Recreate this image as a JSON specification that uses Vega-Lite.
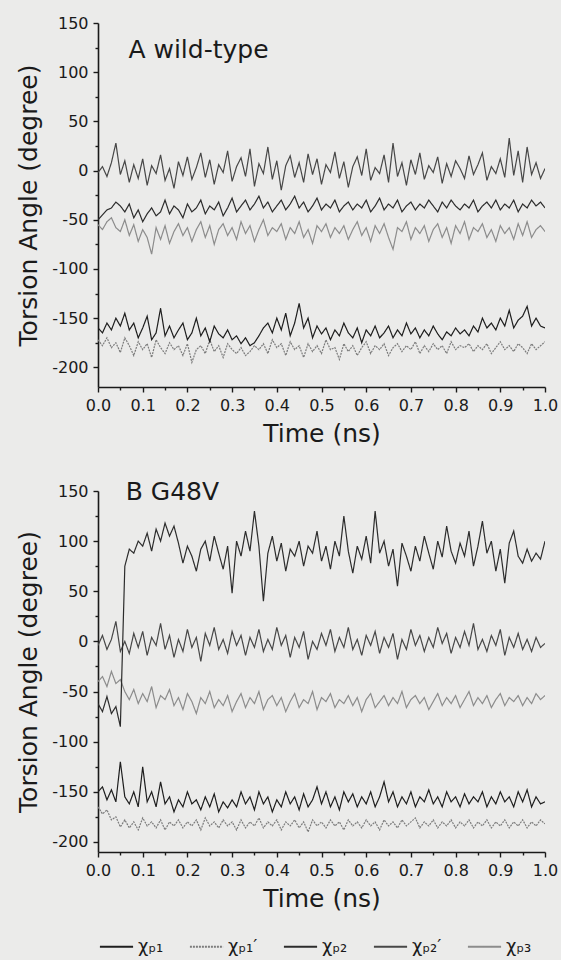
{
  "$schema": "https://vega.github.io/schema/vega-lite/v6.json",
  "background": "#ebebea",
  "padding": {"left": 16, "top": 15, "right": 4, "bottom": 4},
  "spacing": 34,
  "config": {
    "view": {"stroke": null},
    "font": "DejaVu Sans",
    "axis": {
      "grid": false,
      "labelFlush": false,
      "labelOverlap": false,
      "domainColor": "#1a1a1a",
      "domainWidth": 1.6,
      "tickColor": "#1a1a1a",
      "tickWidth": 1.4,
      "tickSize": 5,
      "labelFont": "DejaVu Sans",
      "labelFontSize": 16,
      "labelColor": "#1a1a1a",
      "labelPadding": 5,
      "titleFont": "DejaVu Sans",
      "titleFontSize": 25,
      "titleFontWeight": "normal",
      "titleColor": "#1a1a1a"
    }
  },
  "datasets": {
    "wt": [
      {"t":0.00,"P2p":-2,"P2":-50,"P3":-55,"P1":-160,"P1p":-172},
      {"t":0.01,"P2p":4,"P2":-45,"P3":-60,"P1":-165,"P1p":-178},
      {"t":0.02,"P2p":-6,"P2":-40,"P3":-52,"P1":-155,"P1p":-170},
      {"t":0.03,"P2p":8,"P2":-38,"P3":-48,"P1":-162,"P1p":-180},
      {"t":0.04,"P2p":28,"P2":-32,"P3":-58,"P1":-150,"P1p":-175},
      {"t":0.05,"P2p":-4,"P2":-36,"P3":-62,"P1":-158,"P1p":-185},
      {"t":0.06,"P2p":10,"P2":-42,"P3":-50,"P1":-145,"P1p":-170},
      {"t":0.07,"P2p":-12,"P2":-34,"P3":-66,"P1":-162,"P1p":-178},
      {"t":0.08,"P2p":6,"P2":-48,"P3":-55,"P1":-155,"P1p":-188},
      {"t":0.09,"P2p":-8,"P2":-40,"P3":-72,"P1":-170,"P1p":-174},
      {"t":0.10,"P2p":12,"P2":-52,"P3":-60,"P1":-160,"P1p":-182},
      {"t":0.11,"P2p":-15,"P2":-44,"P3":-68,"P1":-148,"P1p":-176},
      {"t":0.12,"P2p":5,"P2":-38,"P3":-85,"P1":-172,"P1p":-190},
      {"t":0.13,"P2p":-3,"P2":-46,"P3":-58,"P1":-165,"P1p":-172},
      {"t":0.14,"P2p":16,"P2":-42,"P3":-70,"P1":-140,"P1p":-180},
      {"t":0.15,"P2p":-10,"P2":-30,"P3":-56,"P1":-168,"P1p":-186},
      {"t":0.16,"P2p":2,"P2":-44,"P3":-74,"P1":-158,"P1p":-175},
      {"t":0.17,"P2p":-18,"P2":-36,"P3":-62,"P1":-170,"P1p":-182},
      {"t":0.18,"P2p":9,"P2":-40,"P3":-54,"P1":-162,"P1p":-178},
      {"t":0.19,"P2p":-5,"P2":-48,"P3":-66,"P1":-155,"P1p":-188},
      {"t":0.20,"P2p":14,"P2":-34,"P3":-58,"P1":-172,"P1p":-176},
      {"t":0.21,"P2p":-9,"P2":-42,"P3":-72,"P1":-165,"P1p":-195},
      {"t":0.22,"P2p":3,"P2":-38,"P3":-60,"P1":-150,"P1p":-182},
      {"t":0.23,"P2p":18,"P2":-30,"P3":-52,"P1":-168,"P1p":-178},
      {"t":0.24,"P2p":-7,"P2":-44,"P3":-68,"P1":-160,"P1p":-186},
      {"t":0.25,"P2p":11,"P2":-36,"P3":-56,"P1":-174,"P1p":-172},
      {"t":0.26,"P2p":-14,"P2":-40,"P3":-75,"P1":-158,"P1p":-184},
      {"t":0.27,"P2p":6,"P2":-32,"P3":-60,"P1":-166,"P1p":-178},
      {"t":0.28,"P2p":-2,"P2":-46,"P3":-54,"P1":-170,"P1p":-190},
      {"t":0.29,"P2p":20,"P2":-38,"P3":-66,"P1":-162,"P1p":-176},
      {"t":0.30,"P2p":-11,"P2":-28,"P3":-58,"P1":-172,"P1p":-182},
      {"t":0.31,"P2p":4,"P2":-42,"P3":-70,"P1":-168,"P1p":-186},
      {"t":0.32,"P2p":13,"P2":-36,"P3":-52,"P1":-176,"P1p":-180},
      {"t":0.33,"P2p":-6,"P2":-30,"P3":-64,"P1":-170,"P1p":-188},
      {"t":0.34,"P2p":22,"P2":-40,"P3":-56,"P1":-178,"P1p":-184},
      {"t":0.35,"P2p":-16,"P2":-34,"P3":-72,"P1":-175,"P1p":-178},
      {"t":0.36,"P2p":7,"P2":-26,"P3":-60,"P1":-168,"P1p":-182},
      {"t":0.37,"P2p":-3,"P2":-38,"P3":-50,"P1":-160,"P1p":-176},
      {"t":0.38,"P2p":24,"P2":-32,"P3":-66,"P1":-155,"P1p":-186},
      {"t":0.39,"P2p":-9,"P2":-42,"P3":-58,"P1":-165,"P1p":-172},
      {"t":0.40,"P2p":10,"P2":-36,"P3":-62,"P1":-150,"P1p":-180},
      {"t":0.41,"P2p":-20,"P2":-30,"P3":-54,"P1":-162,"P1p":-176},
      {"t":0.42,"P2p":5,"P2":-40,"P3":-70,"P1":-145,"P1p":-188},
      {"t":0.43,"P2p":15,"P2":-34,"P3":-58,"P1":-168,"P1p":-174},
      {"t":0.44,"P2p":-7,"P2":-26,"P3":-64,"P1":-155,"P1p":-182},
      {"t":0.45,"P2p":8,"P2":-38,"P3":-52,"P1":-135,"P1p":-178},
      {"t":0.46,"P2p":-12,"P2":-32,"P3":-68,"P1":-160,"P1p":-190},
      {"t":0.47,"P2p":17,"P2":-42,"P3":-60,"P1":-150,"P1p":-176},
      {"t":0.48,"P2p":-4,"P2":-36,"P3":-74,"P1":-170,"P1p":-184},
      {"t":0.49,"P2p":12,"P2":-28,"P3":-56,"P1":-158,"P1p":-178},
      {"t":0.50,"P2p":-14,"P2":-40,"P3":-62,"P1":-166,"P1p":-186},
      {"t":0.51,"P2p":6,"P2":-34,"P3":-54,"P1":-160,"P1p":-172},
      {"t":0.52,"P2p":-2,"P2":-38,"P3":-68,"P1":-172,"P1p":-182},
      {"t":0.53,"P2p":19,"P2":-30,"P3":-58,"P1":-162,"P1p":-180},
      {"t":0.54,"P2p":-8,"P2":-42,"P3":-64,"P1":-168,"P1p":-192},
      {"t":0.55,"P2p":9,"P2":-36,"P3":-56,"P1":-155,"P1p":-176},
      {"t":0.56,"P2p":-17,"P2":-32,"P3":-70,"P1":-165,"P1p":-184},
      {"t":0.57,"P2p":4,"P2":-40,"P3":-60,"P1":-170,"P1p":-178},
      {"t":0.58,"P2p":14,"P2":-34,"P3":-52,"P1":-160,"P1p":-188},
      {"t":0.59,"P2p":-5,"P2":-38,"P3":-66,"P1":-175,"P1p":-180},
      {"t":0.60,"P2p":22,"P2":-30,"P3":-58,"P1":-162,"P1p":-174},
      {"t":0.61,"P2p":-10,"P2":-42,"P3":-72,"P1":-168,"P1p":-186},
      {"t":0.62,"P2p":3,"P2":-36,"P3":-56,"P1":-158,"P1p":-178},
      {"t":0.63,"P2p":-3,"P2":-28,"P3":-64,"P1":-170,"P1p":-182},
      {"t":0.64,"P2p":16,"P2":-40,"P3":-54,"P1":-165,"P1p":-176},
      {"t":0.65,"P2p":-12,"P2":-34,"P3":-68,"P1":-158,"P1p":-188},
      {"t":0.66,"P2p":28,"P2":-38,"P3":-80,"P1":-170,"P1p":-180},
      {"t":0.67,"P2p":-6,"P2":-30,"P3":-58,"P1":-162,"P1p":-176},
      {"t":0.68,"P2p":8,"P2":-42,"P3":-62,"P1":-168,"P1p":-184},
      {"t":0.69,"P2p":-15,"P2":-36,"P3":-52,"P1":-155,"P1p":-178},
      {"t":0.70,"P2p":11,"P2":-32,"P3":-70,"P1":-166,"P1p":-182},
      {"t":0.71,"P2p":-4,"P2":-40,"P3":-58,"P1":-160,"P1p":-174},
      {"t":0.72,"P2p":18,"P2":-34,"P3":-64,"P1":-170,"P1p":-186},
      {"t":0.73,"P2p":-9,"P2":-38,"P3":-56,"P1":-162,"P1p":-178},
      {"t":0.74,"P2p":5,"P2":-30,"P3":-72,"P1":-168,"P1p":-184},
      {"t":0.75,"P2p":-2,"P2":-36,"P3":-60,"P1":-158,"P1p":-176},
      {"t":0.76,"P2p":14,"P2":-42,"P3":-54,"P1":-166,"P1p":-182},
      {"t":0.77,"P2p":-13,"P2":-32,"P3":-68,"P1":-172,"P1p":-178},
      {"t":0.78,"P2p":7,"P2":-38,"P3":-58,"P1":-164,"P1p":-186},
      {"t":0.79,"P2p":-6,"P2":-30,"P3":-74,"P1":-168,"P1p":-174},
      {"t":0.80,"P2p":10,"P2":-36,"P3":-56,"P1":-160,"P1p":-182},
      {"t":0.81,"P2p":2,"P2":-40,"P3":-64,"P1":-166,"P1p":-178},
      {"t":0.82,"P2p":-8,"P2":-34,"P3":-52,"P1":-162,"P1p":-180},
      {"t":0.83,"P2p":15,"P2":-38,"P3":-70,"P1":-168,"P1p":-176},
      {"t":0.84,"P2p":-4,"P2":-30,"P3":-58,"P1":-158,"P1p":-184},
      {"t":0.85,"P2p":6,"P2":-42,"P3":-62,"P1":-164,"P1p":-178},
      {"t":0.86,"P2p":18,"P2":-36,"P3":-54,"P1":-150,"P1p":-182},
      {"t":0.87,"P2p":-10,"P2":-32,"P3":-68,"P1":-160,"P1p":-176},
      {"t":0.88,"P2p":4,"P2":-38,"P3":-60,"P1":-155,"P1p":-186},
      {"t":0.89,"P2p":-3,"P2":-30,"P3":-72,"P1":-162,"P1p":-180},
      {"t":0.90,"P2p":12,"P2":-40,"P3":-56,"P1":-150,"P1p":-174},
      {"t":0.91,"P2p":-7,"P2":-34,"P3":-64,"P1":-158,"P1p":-182},
      {"t":0.92,"P2p":33,"P2":-38,"P3":-58,"P1":-142,"P1p":-178},
      {"t":0.93,"P2p":-5,"P2":-30,"P3":-70,"P1":-160,"P1p":-184},
      {"t":0.94,"P2p":20,"P2":-42,"P3":-54,"P1":-152,"P1p":-176},
      {"t":0.95,"P2p":-12,"P2":-34,"P3":-66,"P1":-148,"P1p":-180},
      {"t":0.96,"P2p":24,"P2":-38,"P3":-52,"P1":-138,"P1p":-186},
      {"t":0.97,"P2p":-4,"P2":-30,"P3":-68,"P1":-158,"P1p":-176},
      {"t":0.98,"P2p":8,"P2":-36,"P3":-60,"P1":-150,"P1p":-182},
      {"t":0.99,"P2p":-8,"P2":-32,"P3":-56,"P1":-158,"P1p":-178},
      {"t":1.00,"P2p":2,"P2":-38,"P3":-62,"P1":-160,"P1p":-174}
    ],
    "g48v": [
      {"t":0.00,"P2":-62,"P2p":-4,"P3":-40,"P1":-150,"P1p":-165},
      {"t":0.01,"P2":-70,"P2p":6,"P3":-35,"P1":-145,"P1p":-172},
      {"t":0.02,"P2":-55,"P2p":-8,"P3":-45,"P1":-158,"P1p":-168},
      {"t":0.03,"P2":-72,"P2p":2,"P3":-30,"P1":-148,"P1p":-178},
      {"t":0.04,"P2":-65,"P2p":20,"P3":-42,"P1":-160,"P1p":-175},
      {"t":0.05,"P2":-85,"P2p":-10,"P3":-38,"P1":-120,"P1p":-185},
      {"t":0.06,"P2":75,"P2p":0,"P3":-50,"P1":-155,"P1p":-178},
      {"t":0.07,"P2":92,"P2p":-12,"P3":-58,"P1":-162,"P1p":-186},
      {"t":0.08,"P2":88,"P2p":8,"P3":-48,"P1":-150,"P1p":-180},
      {"t":0.09,"P2":100,"P2p":-6,"P3":-62,"P1":-165,"P1p":-188},
      {"t":0.10,"P2":95,"P2p":10,"P3":-52,"P1":-125,"P1p":-176},
      {"t":0.11,"P2":108,"P2p":-14,"P3":-60,"P1":-160,"P1p":-184},
      {"t":0.12,"P2":90,"P2p":4,"P3":-45,"P1":-150,"P1p":-180},
      {"t":0.13,"P2":112,"P2p":-4,"P3":-66,"P1":-165,"P1p":-186},
      {"t":0.14,"P2":100,"P2p":18,"P3":-54,"P1":-140,"P1p":-178},
      {"t":0.15,"P2":118,"P2p":-8,"P3":-58,"P1":-162,"P1p":-188},
      {"t":0.16,"P2":105,"P2p":6,"P3":-48,"P1":-155,"P1p":-180},
      {"t":0.17,"P2":115,"P2p":-16,"P3":-64,"P1":-170,"P1p":-184},
      {"t":0.18,"P2":98,"P2p":2,"P3":-56,"P1":-158,"P1p":-178},
      {"t":0.19,"P2":78,"P2p":-10,"P3":-68,"P1":-165,"P1p":-186},
      {"t":0.20,"P2":95,"P2p":12,"P3":-52,"P1":-150,"P1p":-180},
      {"t":0.21,"P2":85,"P2p":-6,"P3":-60,"P1":-162,"P1p":-184},
      {"t":0.22,"P2":70,"P2p":4,"P3":-72,"P1":-158,"P1p":-178},
      {"t":0.23,"P2":92,"P2p":-20,"P3":-56,"P1":-168,"P1p":-188},
      {"t":0.24,"P2":100,"P2p":8,"P3":-62,"P1":-155,"P1p":-176},
      {"t":0.25,"P2":80,"P2p":-4,"P3":-50,"P1":-165,"P1p":-184},
      {"t":0.26,"P2":105,"P2p":14,"P3":-66,"P1":-152,"P1p":-180},
      {"t":0.27,"P2":88,"P2p":-8,"P3":-58,"P1":-170,"P1p":-186},
      {"t":0.28,"P2":72,"P2p":2,"P3":-64,"P1":-160,"P1p":-178},
      {"t":0.29,"P2":95,"P2p":-12,"P3":-54,"P1":-166,"P1p":-184},
      {"t":0.30,"P2":48,"P2p":10,"P3":-70,"P1":-158,"P1p":-180},
      {"t":0.31,"P2":100,"P2p":-4,"P3":-60,"P1":-165,"P1p":-188},
      {"t":0.32,"P2":85,"P2p":6,"P3":-52,"P1":-150,"P1p":-178},
      {"t":0.33,"P2":110,"P2p":-14,"P3":-66,"P1":-162,"P1p":-186},
      {"t":0.34,"P2":90,"P2p":4,"P3":-56,"P1":-155,"P1p":-180},
      {"t":0.35,"P2":130,"P2p":-6,"P3":-62,"P1":-168,"P1p":-184},
      {"t":0.36,"P2":95,"P2p":12,"P3":-50,"P1":-150,"P1p":-176},
      {"t":0.37,"P2":40,"P2p":-10,"P3":-68,"P1":-162,"P1p":-186},
      {"t":0.38,"P2":88,"P2p":2,"P3":-58,"P1":-155,"P1p":-180},
      {"t":0.39,"P2":105,"P2p":-8,"P3":-54,"P1":-170,"P1p":-184},
      {"t":0.40,"P2":80,"P2p":14,"P3":-64,"P1":-158,"P1p":-178},
      {"t":0.41,"P2":98,"P2p":-4,"P3":-56,"P1":-165,"P1p":-188},
      {"t":0.42,"P2":70,"P2p":6,"P3":-70,"P1":-150,"P1p":-180},
      {"t":0.43,"P2":92,"P2p":-16,"P3":-60,"P1":-162,"P1p":-184},
      {"t":0.44,"P2":85,"P2p":4,"P3":-52,"P1":-155,"P1p":-178},
      {"t":0.45,"P2":100,"P2p":-6,"P3":-66,"P1":-168,"P1p":-186},
      {"t":0.46,"P2":75,"P2p":10,"P3":-58,"P1":-152,"P1p":-180},
      {"t":0.47,"P2":95,"P2p":-18,"P3":-62,"P1":-165,"P1p":-190},
      {"t":0.48,"P2":88,"P2p":0,"P3":-50,"P1":-158,"P1p":-178},
      {"t":0.49,"P2":110,"P2p":-8,"P3":-68,"P1":-145,"P1p":-184},
      {"t":0.50,"P2":80,"P2p":8,"P3":-56,"P1":-162,"P1p":-180},
      {"t":0.51,"P2":95,"P2p":-4,"P3":-60,"P1":-150,"P1p":-186},
      {"t":0.52,"P2":72,"P2p":12,"P3":-52,"P1":-165,"P1p":-178},
      {"t":0.53,"P2":100,"P2p":-10,"P3":-66,"P1":-155,"P1p":-184},
      {"t":0.54,"P2":85,"P2p":4,"P3":-58,"P1":-168,"P1p":-180},
      {"t":0.55,"P2":125,"P2p":-6,"P3":-62,"P1":-150,"P1p":-188},
      {"t":0.56,"P2":90,"P2p":14,"P3":-54,"P1":-160,"P1p":-178},
      {"t":0.57,"P2":68,"P2p":-8,"P3":-64,"P1":-152,"P1p":-184},
      {"t":0.58,"P2":95,"P2p":2,"P3":-56,"P1":-165,"P1p":-180},
      {"t":0.59,"P2":82,"P2p":-14,"P3":-70,"P1":-155,"P1p":-186},
      {"t":0.60,"P2":105,"P2p":6,"P3":-58,"P1":-162,"P1p":-178},
      {"t":0.61,"P2":78,"P2p":-4,"P3":-52,"P1":-150,"P1p":-184},
      {"t":0.62,"P2":130,"P2p":10,"P3":-66,"P1":-165,"P1p":-180},
      {"t":0.63,"P2":88,"P2p":-12,"P3":-60,"P1":-155,"P1p":-188},
      {"t":0.64,"P2":100,"P2p":4,"P3":-54,"P1":-140,"P1p":-178},
      {"t":0.65,"P2":75,"P2p":-6,"P3":-64,"P1":-160,"P1p":-184},
      {"t":0.66,"P2":92,"P2p":8,"P3":-56,"P1":-150,"P1p":-180},
      {"t":0.67,"P2":55,"P2p":-18,"P3":-62,"P1":-165,"P1p":-186},
      {"t":0.68,"P2":98,"P2p":2,"P3":-50,"P1":-155,"P1p":-178},
      {"t":0.69,"P2":85,"P2p":-8,"P3":-66,"P1":-162,"P1p":-184},
      {"t":0.70,"P2":70,"P2p":12,"P3":-58,"P1":-150,"P1p":-180},
      {"t":0.71,"P2":95,"P2p":-4,"P3":-54,"P1":-165,"P1p":-176},
      {"t":0.72,"P2":80,"P2p":6,"P3":-62,"P1":-155,"P1p":-186},
      {"t":0.73,"P2":105,"P2p":-10,"P3":-56,"P1":-160,"P1p":-180},
      {"t":0.74,"P2":88,"P2p":4,"P3":-68,"P1":-148,"P1p":-184},
      {"t":0.75,"P2":72,"P2p":-6,"P3":-60,"P1":-162,"P1p":-178},
      {"t":0.76,"P2":100,"P2p":14,"P3":-52,"P1":-155,"P1p":-186},
      {"t":0.77,"P2":84,"P2p":-2,"P3":-64,"P1":-165,"P1p":-180},
      {"t":0.78,"P2":115,"P2p":8,"P3":-56,"P1":-150,"P1p":-184},
      {"t":0.79,"P2":90,"P2p":-12,"P3":-62,"P1":-160,"P1p":-178},
      {"t":0.80,"P2":78,"P2p":4,"P3":-54,"P1":-155,"P1p":-186},
      {"t":0.81,"P2":98,"P2p":-6,"P3":-66,"P1":-165,"P1p":-180},
      {"t":0.82,"P2":85,"P2p":10,"P3":-58,"P1":-152,"P1p":-184},
      {"t":0.83,"P2":110,"P2p":-4,"P3":-50,"P1":-162,"P1p":-178},
      {"t":0.84,"P2":75,"P2p":18,"P3":-64,"P1":-155,"P1p":-186},
      {"t":0.85,"P2":95,"P2p":-8,"P3":-56,"P1":-160,"P1p":-180},
      {"t":0.86,"P2":120,"P2p":2,"P3":-62,"P1":-150,"P1p":-184},
      {"t":0.87,"P2":88,"P2p":-10,"P3":-54,"P1":-165,"P1p":-178},
      {"t":0.88,"P2":100,"P2p":6,"P3":-66,"P1":-155,"P1p":-186},
      {"t":0.89,"P2":70,"P2p":-4,"P3":-58,"P1":-162,"P1p":-180},
      {"t":0.90,"P2":92,"P2p":12,"P3":-52,"P1":-150,"P1p":-184},
      {"t":0.91,"P2":58,"P2p":-14,"P3":-64,"P1":-160,"P1p":-178},
      {"t":0.92,"P2":98,"P2p":4,"P3":-56,"P1":-155,"P1p":-186},
      {"t":0.93,"P2":110,"P2p":-6,"P3":-60,"P1":-165,"P1p":-180},
      {"t":0.94,"P2":85,"P2p":8,"P3":-54,"P1":-150,"P1p":-184},
      {"t":0.95,"P2":78,"P2p":-8,"P3":-64,"P1":-160,"P1p":-178},
      {"t":0.96,"P2":92,"P2p":2,"P3":-56,"P1":-148,"P1p":-186},
      {"t":0.97,"P2":80,"P2p":-10,"P3":-62,"P1":-165,"P1p":-180},
      {"t":0.98,"P2":88,"P2p":4,"P3":-52,"P1":-155,"P1p":-184},
      {"t":0.99,"P2":82,"P2p":-6,"P3":-58,"P1":-162,"P1p":-178},
      {"t":1.00,"P2":100,"P2p":-2,"P3":-54,"P1":-160,"P1p":-182}
    ]
  },
  "vconcat": [
    {
      "width": 447,
      "height": 364,
      "layer": [
        {
          "data": {"name": "wt"},
          "transform": [{"fold": ["P2p", "P3", "P1p", "P2", "P1"], "as": ["series", "angle"]}],
          "mark": {"type": "line", "strokeWidth": 1.2, "clip": true},
          "encoding": {
            "x": {"field": "t", "type": "quantitative", "scale": {"domain": [0, 1], "nice": false},
              "axis": {"orient": "bottom", "values": [0, 0.1, 0.2, 0.3, 0.4, 0.5, 0.6, 0.7, 0.8, 0.9, 1], "format": ".1f", "title": "Time (ns)", "titlePadding": 8}},
            "y": {"field": "angle", "type": "quantitative", "scale": {"domain": [-220, 150], "nice": false, "zero": false},
              "axis": {"orient": "left", "values": [-200, -150, -100, -50, 0, 50, 100, 150], "labelExpr": "toString(datum.value)", "title": "Torsion Angle (degree)", "titlePadding": 10}},
            "color": {"field": "series", "type": "nominal",
              "scale": {"domain": ["P1", "P1p", "P2", "P2p", "P3"], "range": ["#1e1e1e", "#7c7c7c", "#2c2c2c", "#474747", "#8c8c8c"]},
              "legend": {"orient": "none", "legendX": 1, "legendY": 906, "direction": "horizontal", "columns": 5, "title": null,
                "symbolType": "stroke", "symbolSize": 1100, "symbolStrokeWidth": 1.8, "labelFont": "DejaVu Sans", "labelFontSize": 18, "labelColor": "#1a1a1a", "labelOffset": 4, "columnPadding": 22,
                "labelExpr": "datum.label == 'P1' ? 'χₚ₁' : datum.label == 'P1p' ? 'χₚ₁′' : datum.label == 'P2' ? 'χₚ₂' : datum.label == 'P2p' ? 'χₚ₂′' : 'χₚ₃'"}},
            "strokeDash": {"field": "series", "type": "nominal",
              "scale": {"domain": ["P1", "P1p", "P2", "P2p", "P3"], "range": [[1, 0], [2, 1], [1, 0], [1, 0], [1, 0]]},
              "legend": null}
          }
        },
        {
          "data": {"name": "wt"},
          "transform": [{"fold": ["P2p", "P3", "P1p", "P2", "P1"], "as": ["series", "angle"]}],
          "mark": {"type": "point", "opacity": 0},
          "encoding": {
            "x": {"field": "t", "type": "quantitative", "axis": {"orient": "bottom", "values": [0.05, 0.15, 0.25, 0.35, 0.45, 0.55, 0.65, 0.75, 0.85, 0.95], "labels": false, "domain": false, "tickSize": 3, "title": null}},
            "y": {"field": "angle", "type": "quantitative", "axis": {"orient": "left", "values": [-175, -125, -75, -25, 25, 75, 125], "labels": false, "domain": false, "tickSize": 3, "title": null}}
          }
        },
        {
          "data": {"values": [{}]},
          "mark": {"type": "text", "text": "A wild-type", "align": "left", "baseline": "alphabetic", "font": "DejaVu Sans", "fontSize": 25, "color": "#1a1a1a"},
          "encoding": {
            "x": {"datum": 0.068, "type": "quantitative", "axis": null},
            "y": {"datum": 114, "type": "quantitative", "axis": null}
          }
        }
      ],
      "resolve": {"axis": {"x": "independent", "y": "independent"}}
    },
    {
      "width": 447,
      "height": 361,
      "layer": [
        {
          "data": {"name": "g48v"},
          "transform": [{"fold": ["P2p", "P3", "P1p", "P2", "P1"], "as": ["series", "angle"]}],
          "mark": {"type": "line", "strokeWidth": 1.2, "clip": true},
          "encoding": {
            "x": {"field": "t", "type": "quantitative", "scale": {"domain": [0, 1], "nice": false},
              "axis": {"orient": "bottom", "values": [0, 0.1, 0.2, 0.3, 0.4, 0.5, 0.6, 0.7, 0.8, 0.9, 1], "format": ".1f", "title": "Time (ns)", "titlePadding": 8}},
            "y": {"field": "angle", "type": "quantitative", "scale": {"domain": [-210, 150], "nice": false, "zero": false},
              "axis": {"orient": "left", "values": [-200, -150, -100, -50, 0, 50, 100, 150], "labelExpr": "toString(datum.value)", "title": "Torsion Angle (degree)", "titlePadding": 10}},
            "color": {"field": "series", "type": "nominal"},
            "strokeDash": {"field": "series", "type": "nominal", "legend": null}
          }
        },
        {
          "data": {"name": "g48v"},
          "transform": [{"fold": ["P2p", "P3", "P1p", "P2", "P1"], "as": ["series", "angle"]}],
          "mark": {"type": "point", "opacity": 0},
          "encoding": {
            "x": {"field": "t", "type": "quantitative", "axis": {"orient": "bottom", "values": [0.05, 0.15, 0.25, 0.35, 0.45, 0.55, 0.65, 0.75, 0.85, 0.95], "labels": false, "domain": false, "tickSize": 3, "title": null}},
            "y": {"field": "angle", "type": "quantitative", "axis": {"orient": "left", "values": [-175, -125, -75, -25, 25, 75, 125], "labels": false, "domain": false, "tickSize": 3, "title": null}}
          }
        },
        {
          "data": {"values": [{}]},
          "mark": {"type": "text", "text": "B G48V", "align": "left", "baseline": "alphabetic", "font": "DejaVu Sans", "fontSize": 25, "color": "#1a1a1a"},
          "encoding": {
            "x": {"datum": 0.062, "type": "quantitative", "axis": null},
            "y": {"datum": 141, "type": "quantitative", "axis": null}
          }
        }
      ],
      "resolve": {"axis": {"x": "independent", "y": "independent"}}
    }
  ]
}
